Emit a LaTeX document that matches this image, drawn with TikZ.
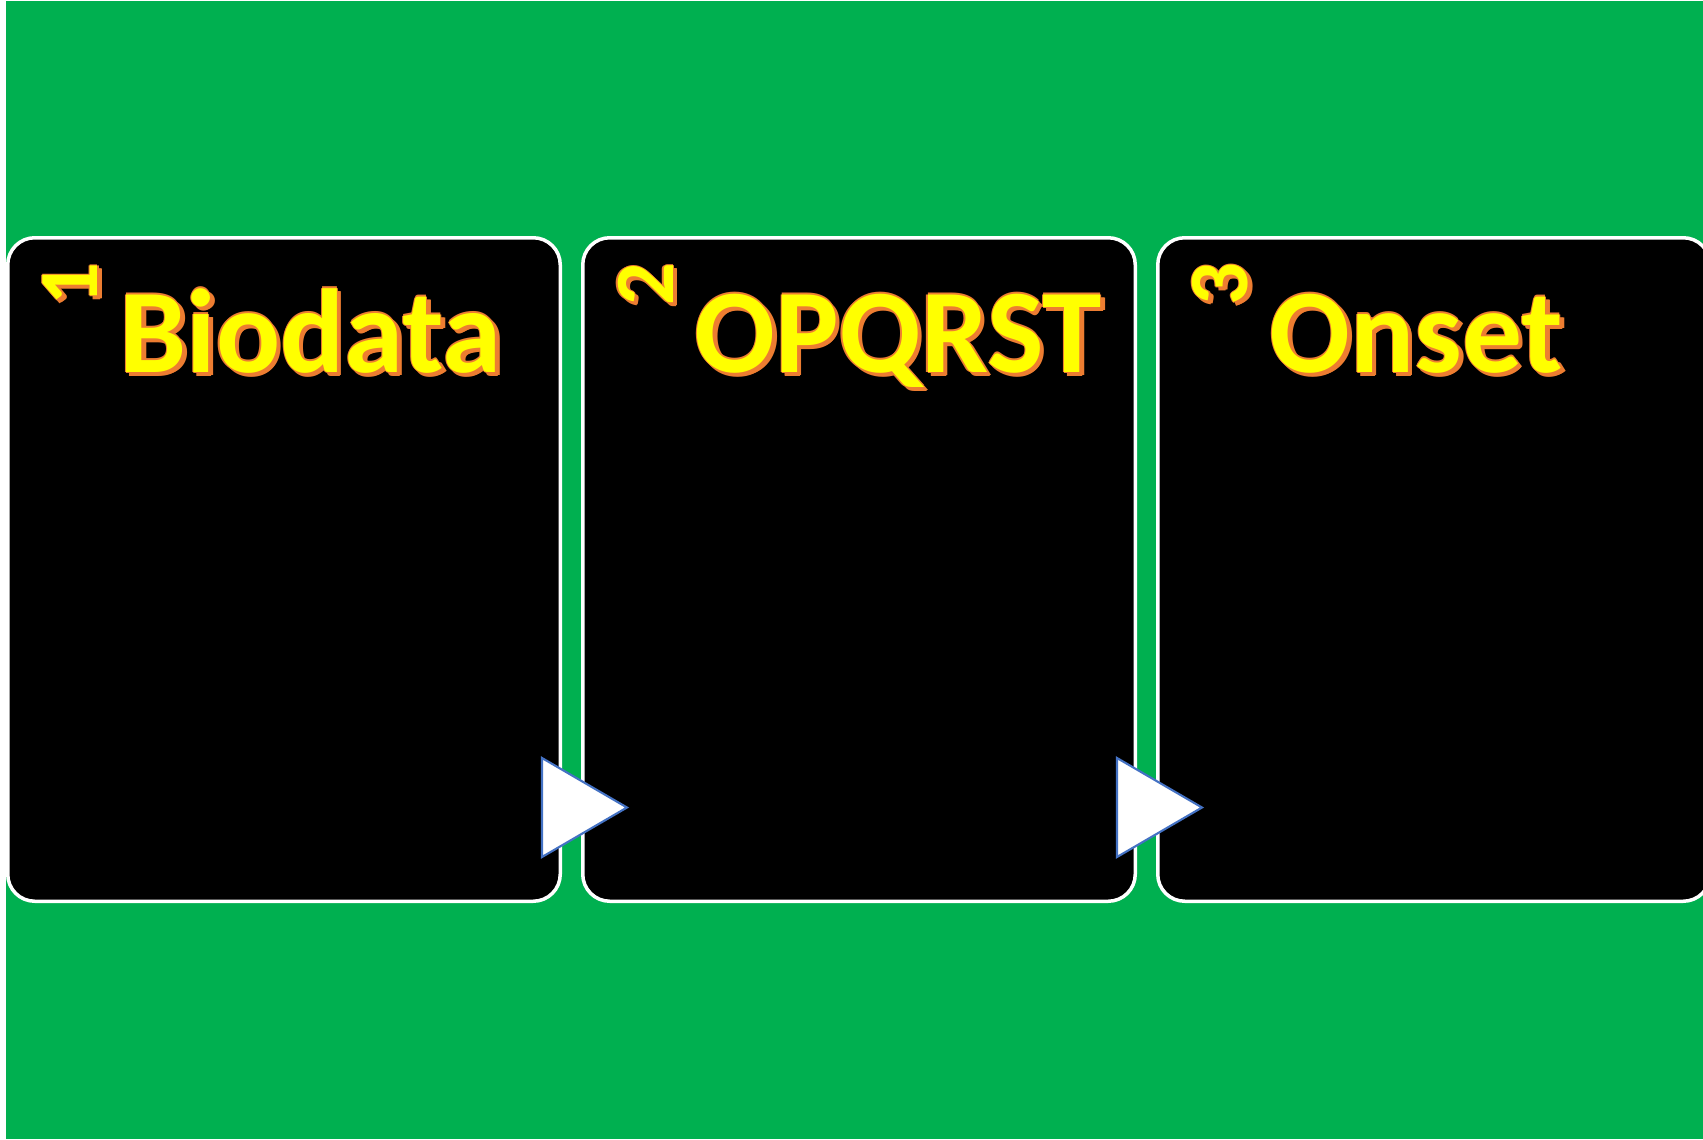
\documentclass[tikz,border=0pt]{standalone}
\usepackage{fontspec}
\setmainfont{Carlito}
\usepackage{tikz}
\usetikzlibrary{positioning}
\usepackage{xcolor}

\definecolor{slidegreen}{RGB}{0,176,80}
\definecolor{glowyellow}{RGB}{255,255,0}
\definecolor{gloworange}{RGB}{237,125,49}
\definecolor{markblue}{RGB}{68,114,196}

\tikzset{
  card/.style={draw=white, line width=0.035cm, fill=black, rounded corners=0.27cm,
    minimum width=5.525cm, minimum height=6.635cm, inner sep=0pt},
  cardtitle/.style={anchor=base west, inner sep=0pt, font=\bfseries\fontsize{34}{40}\selectfont},
  cardnum/.style={anchor=center, inner sep=0pt, rotate=90, font=\bfseries\fontsize{24}{28}\selectfont},
  nextmark/.style={draw=markblue, fill=white, line width=0.6pt, line join=miter}
}

% yellow text with orange rim and shadow
\newcommand{\glowlabel}[4]{%
  \foreach \ox/\oy in {0.035/-0.035,0.045/-0.03,0.03/-0.045,0.012/0,-0.012/0,0/0.012,0/-0.012}
    \node[#2,text=gloworange] at ([shift={(\ox,\oy)}]#3) {#4};
  \node[#2,text=glowyellow] (#1) at (#3) {#4};
}

\begin{document}
\begin{tikzpicture}
\useasboundingbox (0,0) rectangle (17.03,11.39);
% Slide background
\fill[white] (0,0) rectangle (17.03,11.39);
\fill[slidegreen] (0.06,0) rectangle (17.03,11.38);
% Cards
\node[card] (box1) at (2.84,5.695) {};
\node[card, right=0.19cm of box1] (box2) {};
\node[card, right=0.19cm of box2] (box3) {};
% Titles and step numbers
\foreach \b/\t in {1/Biodata, 2/OPQRST, 3/Onset} {
  \coordinate (tpos\b) at ([xshift=1.13cm, yshift=-1.36cm]box\b.north west);
  \coordinate (npos\b) at ([xshift=0.645cm, yshift=-0.48cm]box\b.north west);
  \glowlabel{title\b}{cardtitle}{tpos\b}{\t}
  \glowlabel{num\b}{cardnum}{npos\b}{\b}
}
% Arrow marks
\draw[nextmark] ([xshift=-0.2cm, yshift=0.46cm]box1.south east) -- ++(0,0.99) -- ++(0.85,-0.495) -- cycle;
\draw[nextmark] ([xshift=-0.2cm, yshift=0.46cm]box2.south east) -- ++(0,0.99) -- ++(0.85,-0.495) -- cycle;
\end{tikzpicture}
\end{document}
